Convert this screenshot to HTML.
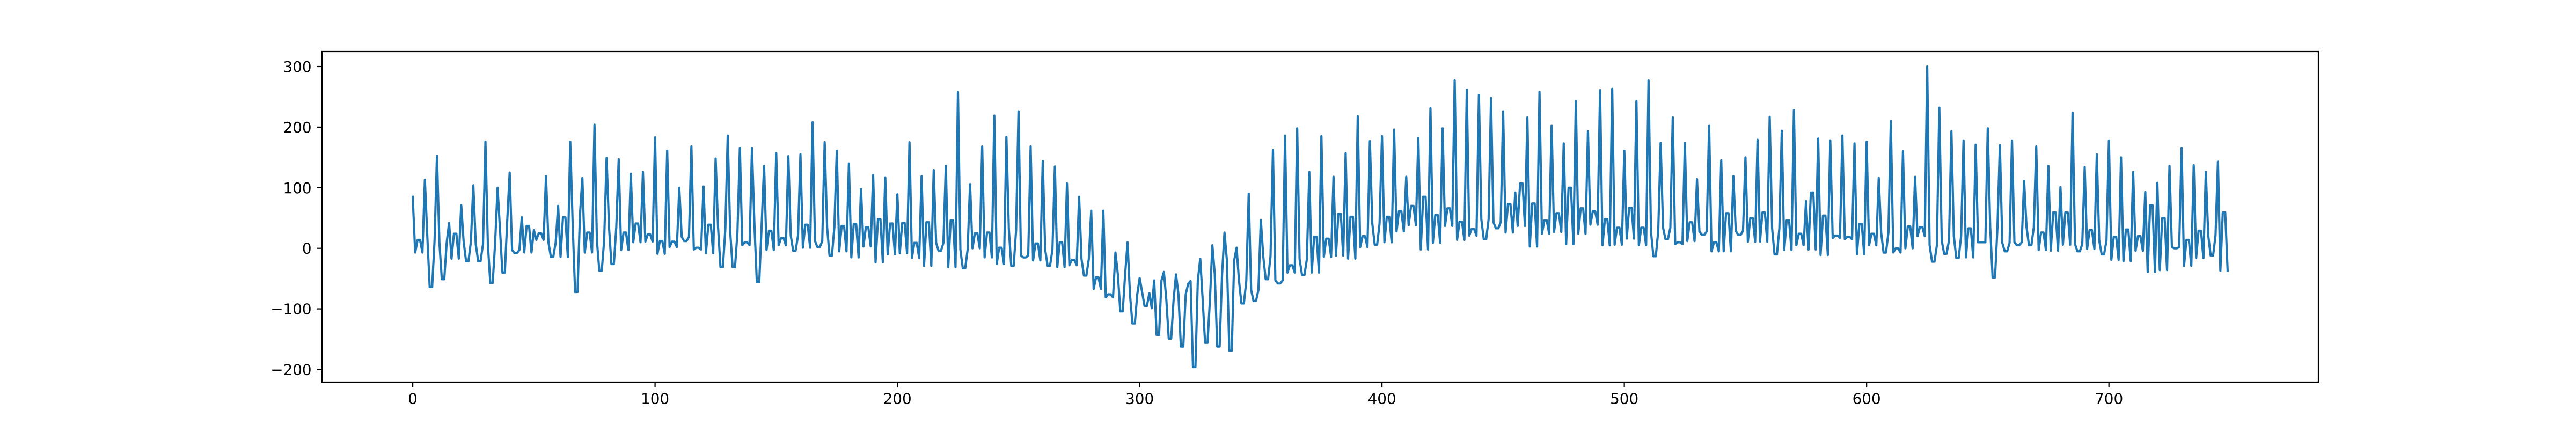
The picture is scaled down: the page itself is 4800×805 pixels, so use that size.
<!DOCTYPE html>
<html><head><meta charset="utf-8"><style>
html,body{margin:0;padding:0;background:#fff;}
svg text{font-family:"DejaVu Sans","Liberation Sans",sans-serif;font-size:27.8px;fill:#000;}
</style></head><body>
<svg id="chart" width="4800" height="800" viewBox="0 0 4800 800" xmlns="http://www.w3.org/2000/svg">
<rect x="0" y="0" width="4800" height="800" fill="#fff"/>
<g id="plot"></g>
</svg>
<script>
const values = [
85,-7,14,14,-7, 113,20,-64,-64,13, 153,9,-51,-51,9, 42,-17,24,24,-17, 71,11,-21,-21,11,
104,7,-21,-21,7, 176,7,-57,-57,9, 100,32,-40,-40,46, 125,-3,-8,-8,-3, 51,-7,37,37,-7,
30,14,25,25,14, 119,10,-14,-14,10, 70,-14,51,51,-14, 176,40,-72,-72,54, 116,-7,26,26,-7,
204,13,-37,-37,13, 149,35,-26,-26,35, 147,-3,26,26,-3, 123,10,41,41,10, 126,11,23,23,11,
183,-9,12,12,-9, 161,2,11,11,2, 100,19,12,12,19, 168,-2,1,1,-2, 102,-8,39,39,-8,
148,35,-31,-31,32, 186,28,-31,-31,26, 166,5,10,10,5, 166,40,-56,-56,40, 136,-3,29,29,-3,
157,5,17,17,5, 152,21,-4,-4,21, 155,1,39,39,1, 208,12,2,2,12, 175,35,-12,-12,35,
161,-5,37,37,-5, 140,-15,40,40,-15, 98,3,35,35,3, 121,-23,48,48,-23, 117,-10,41,41,-10,
89,-8,42,42,-8, 175,-16,9,9,-16, 119,-29,43,43,-29, 129,9,-4,-4,9, 136,-31,46,46,-31,
258,-2,-33,-33,-2, 106,0,25,25,0, 168,-15,26,26,-15, 219,-26,1,1,-26, 184,32,-29,-29,30,
226,-12,-15,-15,-12, 168,-20,8,8,-20, 144,-2,-29,-29,-2, 135,-31,10,10,-31, 107,-28,-19,-19,-28,
85,-18,-45,-45,-18, 62,-67,-48,-48,-67, 62,-81,-76,-76,-81, -7,-43,-104,-104,-43, 10,-76,-124,-124,-76,
-49,-72,-95,-95,-74, -99,-53,-143,-143,-53, -39,-85,-149,-149,-85, -43,-76,-162,-162,-76, -59,-54,-196,-196,-53,
-17,-85,-156,-156,-85, 5,-43,-162,-162,-43, 26,-20,-169,-169,-20, 1,-54,-91,-91,-54, 90,-69,-87,-87,-69,
47,-13,-51,-51,-13, 162,-53,-58,-58,-53, 186,-40,-28,-28,-40, 198,-18,-44,-44,-18, 126,-40,19,19,-40,
185,-14,16,16,-14, 118,-12,57,57,-12, 157,-17,52,52,-17, 218,2,20,20,2, 177,41,6,6,41,
185,10,52,52,10, 196,28,61,61,28, 118,38,70,70,38, 182,-2,85,85,-2, 231,9,55,55,9,
198,37,66,66,37, 277,14,44,44,14, 262,21,32,32,21, 253,48,15,15,48, 248,43,33,33,43,
226,26,73,73,26, 92,37,107,107,37, 216,3,74,74,3, 258,24,46,46,24, 203,27,58,58,27,
173,7,100,100,7, 243,24,66,66,24, 193,39,61,61,39, 261,5,48,48,5, 263,6,34,34,6,
161,16,67,67,16, 243,5,34,34,5, 277,28,-13,-13,28, 174,34,15,15,34, 216,7,10,10,7,
174,12,43,43,12, 114,28,22,22,28, 203,-5,10,10,-5, 145,-5,58,58,-5, 119,29,22,22,29,
150,11,50,50,11, 179,11,59,59,11, 217,33,-10,-10,33, 194,-3,46,46,-3, 228,5,24,24,5,
78,-2,92,92,-2, 181,-11,54,54,-11, 178,17,21,21,17, 186,15,19,19,15, 173,-10,40,40,-10,
176,5,24,24,5, 116,26,-7,-7,26, 210,-7,0,0,-7, 160,0,36,36,0, 118,20,35,35,20,
300,5,-22,-22,5, 232,13,-9,-9,13, 193,20,-16,-16,20, 178,-15,33,33,-15, 171,10,10,10,10,
198,35,-48,-48,35, 170,9,-5,-5,9, 178,10,5,5,10, 111,35,5,5,35, 168,-3,26,26,-3,
136,-4,59,59,-4, 101,6,59,59,6, 224,7,-5,-5,7, 134,-1,30,30,-1, 155,13,-10,-10,13,
178,-19,19,19,-19, 150,-21,31,31,-21, 126,-4,20,20,-4, 93,-39,71,71,-39, 108,-36,50,50,-36,
136,2,0,0,2, 166,-29,14,14,-29, 137,-16,29,29,-16, 126,21,-12,-12,21, 143,-37,59,59,-37
];
const xTicks = [0,100,200,300,400,500,600,700];
const yTicks = [-200,-100,0,100,200,300];
const xTickLabels = ["0","100","200","300","400","500","600","700"];
const yTickLabels = ["\u2212200","\u2212100","0","100","200","300"];

const L=600,R=4320,T=96,B=712;
const n=values.length;
const xmin=-0.05*(n-1), xmax=(n-1)*1.05;
let vmin=Math.min(...values), vmax=Math.max(...values);
const ymin=vmin-0.05*(vmax-vmin), ymax=vmax+0.05*(vmax-vmin);
function xs(v){return L+(v-xmin)/(xmax-xmin)*(R-L);}
function ys(v){return B-(v-ymin)/(ymax-ymin)*(B-T);}
const NS="http://www.w3.org/2000/svg";
const g=document.getElementById('plot');
function mk(tag,attrs){const e=document.createElementNS(NS,tag);for(const k in attrs)e.setAttribute(k,attrs[k]);g.appendChild(e);return e;}

let d=values.map((v,i)=>(i?'L':'M')+xs(i).toFixed(2)+' '+ys(v).toFixed(2)).join(' ');
const line=mk('path',{d:d,fill:'none',stroke:'#1f77b4','stroke-width':4.17,'stroke-linejoin':'round','stroke-linecap':'square'});



const frame=mk('rect',{x:L,y:T,width:R-L,height:B-T,fill:'none',stroke:'#000','stroke-width':2.2});



xTicks.forEach((t,i)=>{
  const x=xs(t);
  const tk=mk('line',{x1:x,x2:x,y1:B,y2:B+9.7,stroke:'#000','stroke-width':2.2});
  
  
  const tx=mk('text',{x:x,y:B+40.5,'text-anchor':'middle'});
  tx.textContent=xTickLabels[i];
  
  
});
yTicks.forEach((t,i)=>{
  const y=ys(t);
  const tk=mk('line',{x1:L-9.7,x2:L,y1:y,y2:y,stroke:'#000','stroke-width':2.2});
  
  
  const tx=mk('text',{x:L-19.4,y:y+10,'text-anchor':'end'});
  tx.textContent=yTickLabels[i];
  
  
});
</script>
</body></html>
